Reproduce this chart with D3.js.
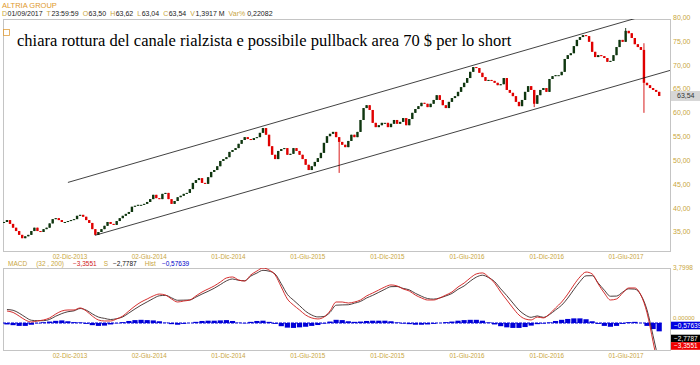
<!DOCTYPE html>
<html lang="it">
<head>
<meta charset="UTF-8">
<title>Altria Group</title>
<script src="https://cdnjs.cloudflare.com/ajax/libs/d3/7.8.5/d3.min.js"></script>
<style>
  body { margin: 0; background: #fff; }
  svg { display: block; font-family: "Liberation Sans", Arial, sans-serif; }
</style>
</head>
<body>
<svg width="700" height="365"></svg>
<script>
// weekly closes, first week starts 15 Jul 2013
const firstWeek = new Date(2013, 6, 15);
const firstOpen = 36.9;
const closes = [
  37.1, 37.5, 36.7, 35.9, 35.2, 34.4, 33.7, 34.1, 34.4, 35.2,
  35.9, 35.2, 35.0, 35.6, 35.9, 36.8, 37.7, 37.9, 37.5, 37.1,
  37.1, 37.3, 37.5, 37.7, 38.4, 38.6, 38.2, 37.5, 36.9, 35.6,
  34.4, 35.0, 35.6, 36.3, 37.1, 36.7, 36.5, 37.3, 37.9, 38.4,
  38.8, 39.2, 40.3, 40.5, 40.7, 40.7, 40.9, 41.3, 41.9, 42.8,
  42.1, 41.9, 43.0, 43.2, 41.9, 40.9, 41.5, 42.3, 42.6, 43.0,
  43.2, 44.0, 45.3, 45.9, 46.3, 45.3, 45.1, 46.5, 47.6, 48.0,
  48.8, 49.9, 50.3, 50.7, 51.8, 52.2, 52.6, 53.5, 54.3, 54.9,
  54.5, 54.3, 54.7, 54.9, 55.8, 56.8, 55.4, 53.0, 51.2, 50.3,
  52.0, 52.4, 52.6, 51.2, 51.4, 52.6, 52.0, 51.2, 50.3, 49.1,
  48.0, 48.8, 49.7, 50.5, 51.6, 53.7, 55.1, 55.6, 56.0, 54.9,
  53.9, 53.3, 52.8, 54.1, 55.4, 54.9, 56.0, 58.5, 61.0, 61.6,
  60.6, 57.9, 57.0, 57.4, 57.9, 57.9, 57.0, 57.7, 58.5, 57.7,
  58.1, 58.9, 57.4, 58.7, 60.0, 60.8, 61.4, 62.1, 61.9, 61.2,
  61.9, 62.7, 63.7, 62.7, 61.6, 61.0, 62.3, 63.1, 63.5, 64.4,
  65.4, 66.3, 67.3, 68.6, 69.6, 69.4, 68.4, 67.5, 66.7, 66.9,
  66.7, 66.3, 65.8, 66.0, 67.3, 64.8, 64.2, 63.5, 62.3, 61.4,
  62.7, 64.4, 65.6, 64.8, 61.9, 63.7, 64.8, 65.2, 64.4, 67.1,
  67.7, 67.9, 67.9, 68.6, 71.3, 72.1, 72.5, 74.0, 75.3, 75.9,
  76.3, 76.1, 74.9, 72.8, 71.7, 72.1, 71.9, 71.5, 70.7, 70.9,
  72.1, 73.8, 75.3, 74.9, 77.2, 76.7, 75.7, 74.4, 73.8, 73.2,
  66.3, 65.8, 65.2, 64.8, 64.4, 63.54
];
// the few long shadows that stand out
const wickWeek = [110, 174, 204, 210];
const wickHigh = [null, null, 77.8, 74.6];
const wickLow = [47.4, 61.2, null, 60.0];

// MACD (32, 200) read every other week (weeks 1, 3, 5 ...)
const macd = [
  0.83, 0.73, 0.48, 0.21, 0.07, 0.14, 0.21, 0.35, 0.62, 0.83,
  0.90, 0.90, 1.04, 0.83, 0.48, 0.21, 0.14, 0.14, 0.28, 0.48,
  0.83, 1.17, 1.45, 1.66, 1.87, 2.00, 1.93, 1.66, 1.45, 1.52,
  1.59, 1.87, 2.14, 2.35, 2.56, 2.83, 3.11, 3.18, 2.97, 2.90,
  3.32, 3.59, 3.7998, 3.66, 3.32, 2.49, 1.66, 1.24, 0.90, 0.55,
  0.35, 0.28, 0.41, 0.83, 1.45, 1.45, 1.38, 1.45, 1.59, 1.87,
  2.07, 2.28, 2.49, 2.63, 2.56, 2.35, 2.21, 1.93, 1.73, 1.59,
  1.59, 1.73, 1.93, 2.14, 2.49, 2.76, 3.11, 3.39, 3.46, 3.18,
  2.76, 2.14, 1.59, 1.04, 0.55, 0.28, 0.21, 0.41, 0.35, 0.62,
  1.04, 1.45, 2.00, 2.63, 3.18, 3.52, 3.39, 2.70, 2.07, 1.59,
  1.66, 2.07, 2.42, 2.42, 1.93, 0.71, -1.30, -3.3551
];
const hist = [
  -0.10, -0.15, -0.20, -0.20, -0.12, -0.02, 0.05, 0.10, 0.15, 0.18,
  0.12, 0.06, 0.04, -0.06, -0.15, -0.20, -0.18, -0.10, -0.02, 0.06,
  0.14, 0.20, 0.22, 0.20, 0.18, 0.12, 0.02, -0.08, -0.12, -0.06,
  0.00, 0.08, 0.14, 0.16, 0.16, 0.18, 0.20, 0.14, 0.02, -0.02,
  0.08, 0.14, 0.16, 0.08, -0.06, -0.22, -0.32, -0.34, -0.30, -0.26,
  -0.20, -0.14, -0.04, 0.10, 0.22, 0.20, 0.12, 0.08, 0.10, 0.14,
  0.16, 0.16, 0.16, 0.12, 0.04, -0.04, -0.08, -0.12, -0.12, -0.10,
  -0.06, 0.00, 0.06, 0.10, 0.16, 0.20, 0.22, 0.22, 0.16, 0.04,
  -0.10, -0.22, -0.30, -0.34, -0.34, -0.28, -0.18, -0.08, -0.04, 0.04,
  0.14, 0.22, 0.28, 0.32, 0.32, 0.26, 0.12, -0.06, -0.20, -0.26,
  -0.20, -0.06, 0.06, 0.08, 0.00, -0.20, -0.42, -0.57639
];

const priceTicks = [35, 40, 45, 50, 55, 60, 65, 70, 75, 80];
const dateTicks = ['2013-12-02', '2014-06-02', '2014-12-01', '2015-06-01',
                   '2015-12-01', '2016-06-01', '2016-12-01', '2017-06-01'];
// channel drawn by hand: [date, price] endpoints
const channelUpper = [['2013-12-11', 45.4], ['2017-07-21', 80.2]];
const channelLower = [['2014-02-11', 34.3], ['2017-09-24', 68.9]];
const header = [['D', '01/09/2017'], ['T', '23:59:59'], ['O', '63,50'], ['H', '63,62'],
                ['L', '63,04'], ['C', '63,54'], ['V', '1,3917 M'], ['Var%', '0,22082']];
const note = 'chiara rottura del canale rialzista e possibile pullback area 70 $ per lo short';

const gold = '#c9a640';
const svg = d3.select('svg');
svg.append('rect').attr('width', 700).attr('height', 365).attr('fill', '#fff');

const parse = d3.timeParse('%Y-%m-%d');
const itLocale = d3.timeFormatLocale({
  dateTime: '%A %e %B %Y, %X', date: '%d/%m/%Y', time: '%H:%M:%S', periods: ['AM', 'PM'],
  days: ['Domenica', 'Lunedì', 'Martedì', 'Mercoledì', 'Giovedì', 'Venerdì', 'Sabato'],
  shortDays: ['Dom', 'Lun', 'Mar', 'Mer', 'Gio', 'Ven', 'Sab'],
  months: ['Gennaio', 'Febbraio', 'Marzo', 'Aprile', 'Maggio', 'Giugno', 'Luglio', 'Agosto', 'Settembre', 'Ottobre', 'Novembre', 'Dicembre'],
  shortMonths: ['Gen', 'Feb', 'Mar', 'Apr', 'Mag', 'Giu', 'Lug', 'Ago', 'Set', 'Ott', 'Nov', 'Dic']
});
const fmtDate = itLocale.format('%d-%b-%Y');
const numIt = d3.formatLocale({decimal: ',', thousands: '.', grouping: [3], currency: ['', ' €']});
const f2 = numIt.format('.2f');

const main = {l: 3, r: 670, t: 19, b: 251};
const low = {l: 3, r: 670, t: 268, b: 350};

const x = d3.scaleTime().domain([parse('2013-12-02'), parse('2017-06-01')]).range([64, 620]);
const y = d3.scaleLinear().domain([35, 80]).range([232, 17.5]);

const weeks = closes.map((c, i) => d3.timeDay.offset(firstWeek, 7 * i + 2));
const candles = closes.map((c, i) => {
  const o = i ? closes[i - 1] : firstOpen;
  const w = wickWeek.indexOf(i);
  const h = w >= 0 && wickHigh[w] != null ? Math.max(o, c, wickHigh[w]) : Math.max(o, c);
  const l = w >= 0 && wickLow[w] != null ? Math.min(o, c, wickLow[w]) : Math.min(o, c);
  return {date: weeks[i], o, c, h, l};
});

// clip paths
const defs = svg.append('defs');
defs.append('clipPath').attr('id', 'clipMain').append('rect')
  .attr('x', main.l).attr('y', main.t).attr('width', main.r - main.l).attr('height', main.b - main.t);
defs.append('clipPath').attr('id', 'clipLow').append('rect')
  .attr('x', low.l).attr('y', low.t).attr('width', low.r - low.l).attr('height', low.b - low.t);

// frames
[main, low].forEach(p => {
  svg.append('rect').attr('x', p.l + 0.5).attr('y', p.t + 0.5)
    .attr('width', p.r - p.l).attr('height', p.b - p.t)
    .attr('fill', 'none').attr('stroke', '#c4c4c4').attr('stroke-width', 1);
});

// header
svg.append('text').attr('x', 2).attr('y', 8).attr('font-size', 7.5).attr('fill', '#e09a2c')
  .text('ALTRIA GROUP');
const hdr = svg.append('text').attr('x', 2).attr('y', 16).attr('font-size', 7);
header.forEach((d, i) => {
  hdr.append('tspan').attr('fill', gold).attr('dx', i ? 4 : 0).text(d[0]);
  hdr.append('tspan').attr('fill', '#222').attr('dx', d[0] === 'Var%' ? 2 : 0.5).text(d[1]);
});

// price panel
const gMain = svg.append('g').attr('clip-path', 'url(#clipMain)');
gMain.selectAll('line.wick').data(candles).enter().append('line')
  .attr('class', 'wick')
  .attr('x1', d => x(d.date)).attr('x2', d => x(d.date))
  .attr('y1', d => y(d.h)).attr('y2', d => y(d.l))
  .attr('stroke', d => d.c >= d.o ? '#0e2a0e' : '#d40000').attr('stroke-width', 0.9);
gMain.selectAll('rect.body').data(candles).enter().append('rect')
  .attr('class', 'body')
  .attr('x', d => x(d.date) - 1.2).attr('width', 2.4)
  .attr('y', d => y(Math.max(d.o, d.c)))
  .attr('height', d => Math.max(1, Math.abs(y(d.o) - y(d.c))))
  .attr('fill', d => d.c >= d.o ? '#0f360f' : '#e00000');

[channelUpper, channelLower].forEach(ch => {
  gMain.append('line')
    .attr('x1', x(parse(ch[0][0]))).attr('y1', y(ch[0][1]))
    .attr('x2', x(parse(ch[1][0]))).attr('y2', y(ch[1][1]))
    .attr('stroke', '#111').attr('stroke-width', 0.8);
});

// annotation
svg.append('rect').attr('x', 3.5).attr('y', 29.5).attr('width', 6).attr('height', 6)
  .attr('fill', 'none').attr('stroke', '#e0a040').attr('stroke-width', 0.8);
svg.append('text').attr('x', 17).attr('y', 46)
  .attr('font-family', '"Liberation Serif", "Times New Roman", serif')
  .attr('font-size', 16.5).attr('fill', '#000').text(note);

// price axis labels
svg.selectAll('text.py').data(priceTicks).enter().append('text')
  .attr('class', 'py').attr('x', 673).attr('y', d => y(d)).attr('dy', '0.35em')
  .attr('font-size', 7).attr('fill', gold).text(d => f2(d));

const last = closes[closes.length - 1];
svg.append('rect').attr('x', 671).attr('y', y(last) - 5).attr('width', 29).attr('height', 10)
  .attr('fill', '#d6d6d6');
svg.append('text').attr('x', 677).attr('y', y(last)).attr('dy', '0.35em')
  .attr('font-size', 7).attr('fill', '#333').text(f2(last));

// date labels (drawn a little right of the tick date, as in the source)
[main.b + 5.5, low.b + 6].forEach(yy => {
  svg.selectAll(null).data(dateTicks).enter().append('text')
    .attr('x', d => x(parse(d)) + 6).attr('y', yy).attr('dy', '0.35em')
    .attr('text-anchor', 'middle').attr('font-size', 6.3).attr('fill', gold)
    .text(d => fmtDate(parse(d)));
});

// MACD panel
const macdDates = macd.map((v, k) => weeks[2 * k + 1]);
const signal = macd.map((v, k) => v - hist[k]);
const ym = d3.scaleLinear().domain([0, d3.max(macd)]).range([323, low.t]);
const gLow = svg.append('g').attr('clip-path', 'url(#clipLow)');

gLow.append('line').attr('x1', low.l).attr('x2', x(macdDates[macdDates.length - 1]) + 2.5)
  .attr('y1', ym(0)).attr('y2', ym(0)).attr('stroke', '#0000d8').attr('stroke-width', 1.2)
  .attr('stroke-dasharray', '3,1');
gLow.selectAll('rect.h').data(hist).enter().append('rect')
  .attr('class', 'h')
  .attr('x', (d, k) => x(macdDates[k]) - 2.6).attr('width', 5.2)
  .attr('y', d => Math.min(ym(0), ym(d))).attr('height', d => Math.abs(ym(d) - ym(0)))
  .attr('fill', '#0000d8');

const lineGen = arr => d3.line()
  .x((d, k) => x(macdDates[k])).y(d => ym(d)).curve(d3.curveMonotoneX)(arr);
gLow.append('path').attr('d', lineGen(signal)).attr('fill', 'none')
  .attr('stroke', '#3a2a2a').attr('stroke-width', 0.9);
gLow.append('path').attr('d', lineGen(macd)).attr('fill', 'none')
  .attr('stroke', '#d01818').attr('stroke-width', 0.9);

// MACD header
const mh = svg.append('text').attr('x', 8).attr('y', 263.5).attr('dy', '0.35em').attr('font-size', 6.5);
mh.append('tspan').attr('fill', gold).text('MACD');
mh.append('tspan').attr('fill', gold).attr('dx', 9).text('(32 , 200)');
mh.append('tspan').attr('fill', '#d01818').attr('dx', 9).text(numIt.format('.4f')(macd[macd.length - 1]));
mh.append('tspan').attr('fill', gold).attr('dx', 7).text('S');
mh.append('tspan').attr('fill', '#111').attr('dx', 5).text(numIt.format('.4f')(signal[signal.length - 1]));
mh.append('tspan').attr('fill', gold).attr('dx', 8).text('Hist');
mh.append('tspan').attr('fill', '#0000c8').attr('dx', 6).text(numIt.format('.5f')(hist[hist.length - 1]));

// MACD scale labels
svg.append('text').attr('x', 673).attr('y', ym(d3.max(macd))).attr('dy', '0.35em')
  .attr('font-size', 6.5).attr('fill', gold).text(numIt.format('.4f')(d3.max(macd)));
svg.append('text').attr('x', 673).attr('y', 317.5).attr('dy', '0.35em')
  .attr('font-size', 6).attr('fill', gold).text(numIt.format('.5f')(0));

const boxes = [
  {v: hist[hist.length - 1], f: '.5f', fill: '#0000e0', yc: 325.5},
  {v: signal[signal.length - 1], f: '.4f', fill: '#000', yc: 338.5},
  {v: macd[macd.length - 1], f: '.4f', fill: '#f00000', yc: 346}
];
boxes.forEach(b => {
  svg.append('rect').attr('x', 671).attr('y', b.yc - 3.8).attr('width', 29).attr('height', 7.6)
    .attr('fill', b.fill);
  svg.append('text').attr('x', 674).attr('y', b.yc).attr('dy', '0.35em')
    .attr('font-size', 6.5).attr('fill', '#fff').text(numIt.format(b.f)(b.v));
});
</script>
</body>
</html>
